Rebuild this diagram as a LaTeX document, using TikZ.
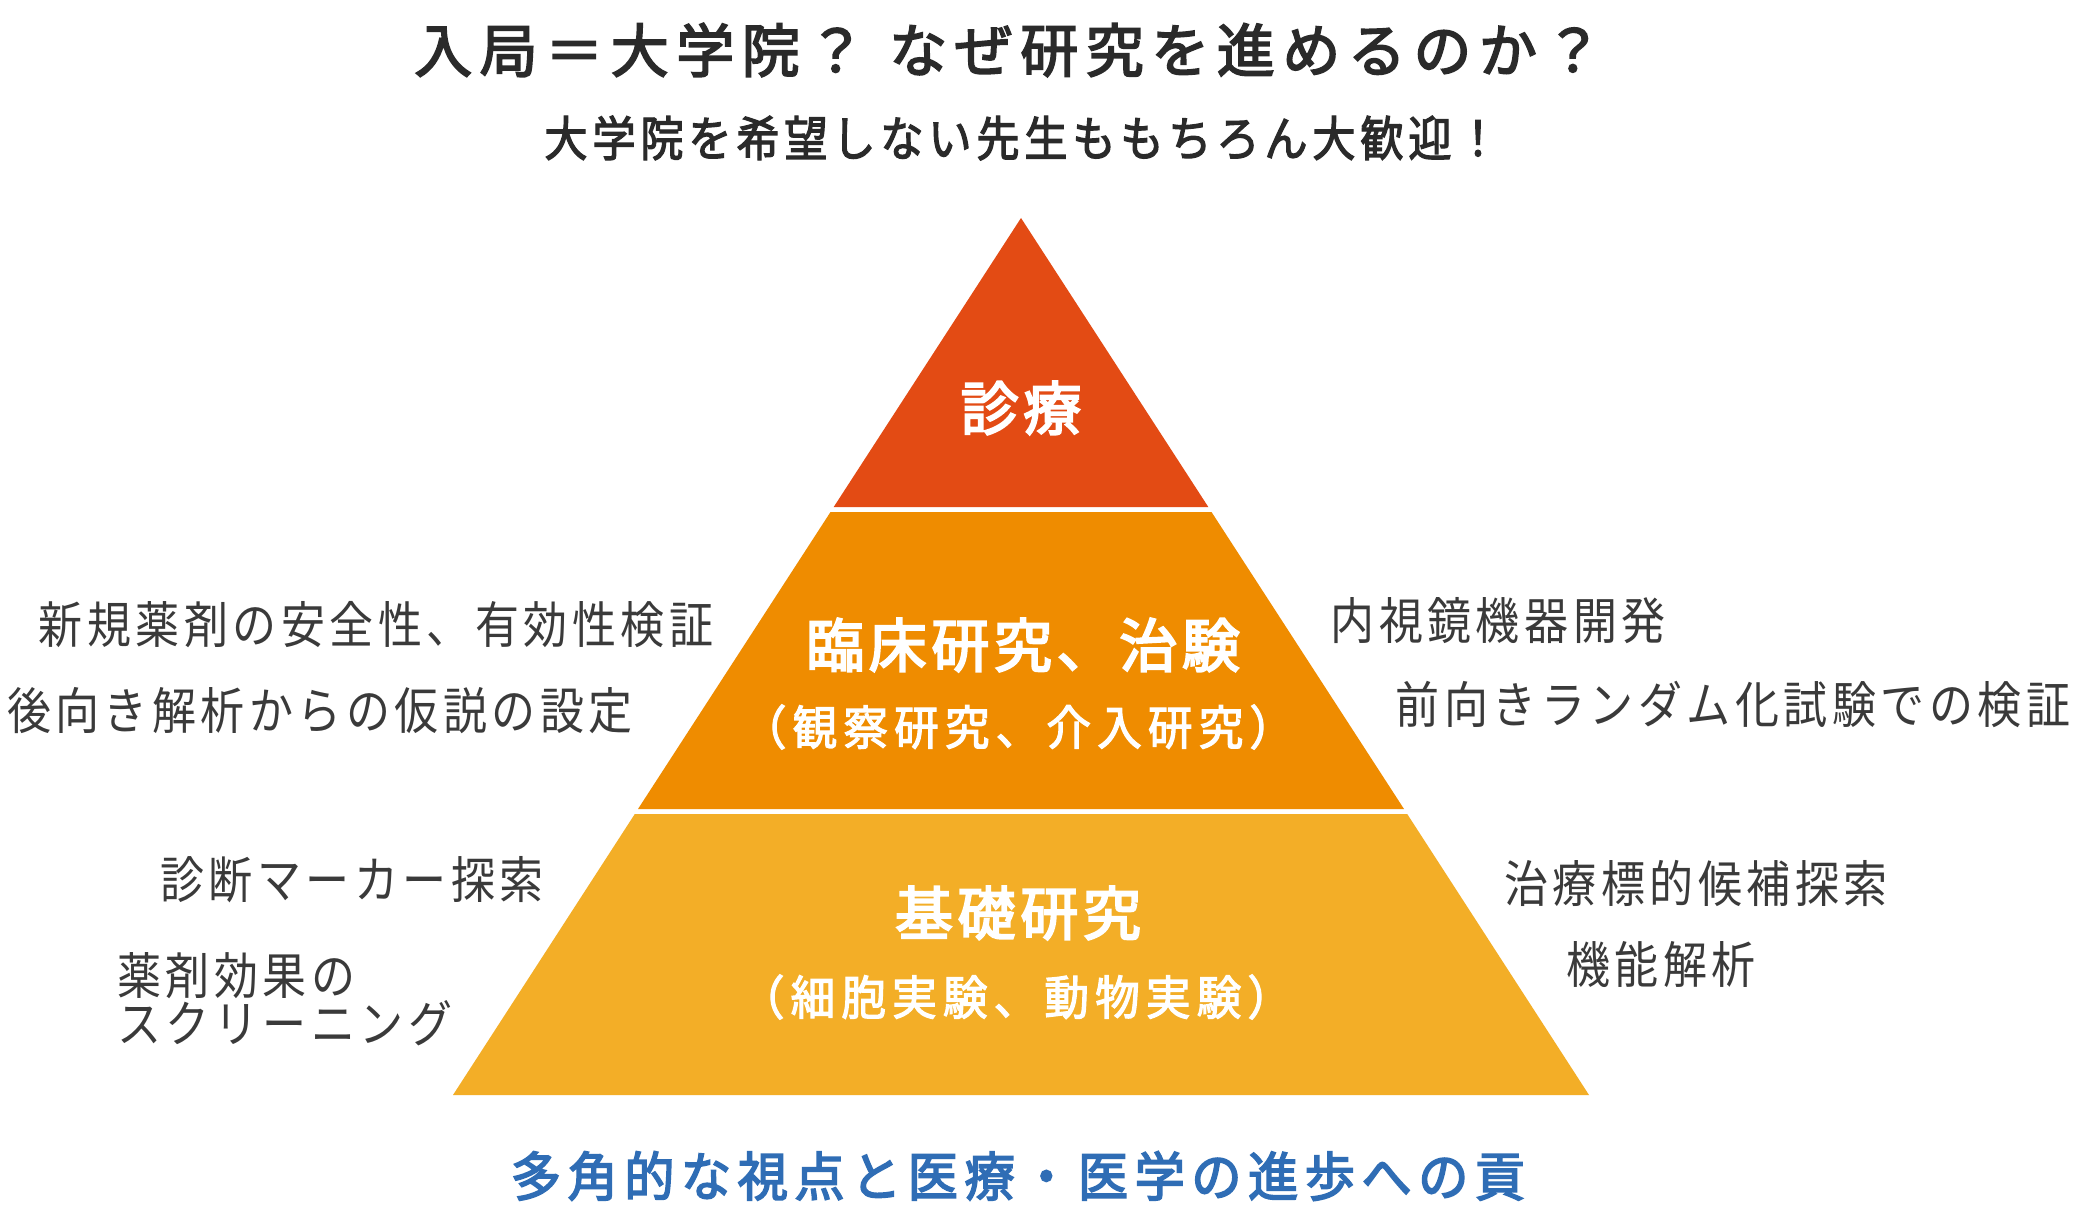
\documentclass[tikz,border=0pt]{standalone}
\usepackage{fontspec}
\newfontfamily\jpside[LetterSpace=9,FakeStretch=0.88]{Noto Sans CJK JP}
\newfontfamily\jpsub[LetterSpace=10,FakeStretch=0.9,FakeBold=2.5]{Noto Sans CJK JP}
\newfontfamily\jptitle[LetterSpace=13,FakeBold=3]{Noto Sans CJK JP}
\newfontfamily\jplab[LetterSpace=8,FakeBold=3.5]{Noto Sans CJK JP}
\newfontfamily\jpsmall[LetterSpace=13,FakeStretch=0.95,FakeBold=2.5]{Noto Sans CJK JP}
\newfontfamily\jpfoot[LetterSpace=12,FakeStretch=0.95,FakeBold=3]{Noto Sans CJK JP}
\definecolor{cTop}{HTML}{E34B14}
\definecolor{cMid}{HTML}{EF8C00}
\definecolor{cBot}{HTML}{F3AE27}
\definecolor{cTxt}{HTML}{3A3A3A}
\definecolor{cHead}{HTML}{2A2A2A}
\definecolor{cBlue}{HTML}{2F6DB5}
\tikzset{
  layer/.style={draw=none},
  side/.style={inner sep=0pt, text=cTxt, font=\jpside\fontsize{50}{56}\selectfont},
  head/.style={inner sep=0pt, text=cHead, anchor=west, font=\jptitle\fontsize{58}{64}\selectfont},
  inlabel/.style={inner sep=0pt, text=white, font=\jplab\fontsize{58}{64}\selectfont},
  insub/.style={inner sep=0pt, text=white, font=\jpsmall\fontsize{47}{54}\selectfont},
}
\begin{document}
\begin{tikzpicture}[x=1pt,y=-1pt]
\useasboundingbox (0,0) rectangle (2076,1214);
\fill[white] (0,0) rectangle (2076,1214);
% pyramid layers
\fill[layer, cTop] (1021,218) -- (1208.3,507) -- (833.7,507) -- cycle;
\fill[layer, cMid] (830.5,512) -- (1211.5,512) -- (1404,809) -- (638,809) -- cycle;
\fill[layer, cBot] (634.8,814) -- (1407.2,814) -- (1589,1095) -- (453,1095) -- cycle;
% headings
\node[head] (title1) at (414,50) {入局＝大学院？};
\node[head] (title2) at (889,50) {なぜ研究を進めるのか？};
\node[inner sep=0pt, text=cHead, font=\jpsub\fontsize{48}{54}\selectfont] (subtitle) at (1022,138) {大学院を希望しない先生ももちろん大歓迎！};
% pyramid labels
\node[inlabel] (top) at (1021,408) {診療};
\node[inlabel] (mid) at (1023,645) {臨床研究、治験};
\node[insub] (midsub) at (1018,727) {（観察研究、介入研究）};
\node[inlabel] (bot) at (1018,913) {基礎研究};
\node[insub] (botsub) at (1016,997) {（細胞実験、動物実験）};
% side texts
\node[side] (l1) at (376,625) {新規薬剤の安全性、有効性検証};
\node[side] (l2) at (320,711) {後向き解析からの仮説の設定};
\node[side] (r1) at (1498,621) {内視鏡機器開発};
\node[side] (r2) at (1733,704) {前向きランダム化試験での検証};
\node[side] (l3) at (352,880) {診断マーカー探索};
\node[side, anchor=west] (l4) at (117,976) {薬剤効果の};
\node[side, anchor=west] (l5) at (117,1023) {スクリーニング};
\node[side] (r3) at (1696,883) {治療標的候補探索};
\node[side] (r4) at (1661,965) {機能解析};
% bottom line
\node[inner sep=0pt, text=cBlue, font=\jpfoot\fontsize{53}{58}\selectfont] (foot) at (1018,1176) {多角的な視点と医療・医学の進歩への貢};
\end{tikzpicture}
\end{document}
